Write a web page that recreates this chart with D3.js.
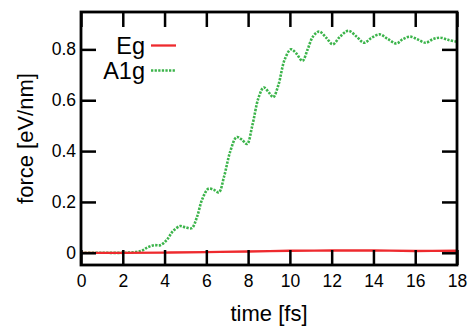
<!DOCTYPE html>
<html>
<head>
<meta charset="utf-8">
<script src="https://cdn.jsdelivr.net/npm/d3@7"></script>
<style>
  html, body { margin: 0; padding: 0; background: #fff; }
  svg { display: block; font-family: "Liberation Sans", Arial, Helvetica, sans-serif; }
</style>
</head>
<body>
<svg id="chart" width="471" height="328"></svg>
<script>
// ---- data ----
const xTicks = [0, 2, 4, 6, 8, 10, 12, 14, 16, 18];
const yTicks = [0, 0.2, 0.4, 0.6, 0.8];
const seriesNames = ["Eg", "A1g"];

const egTime  = [0, 2, 4, 6, 8, 10, 12, 14, 16, 18];
const egForce = [0, 0, 0.001, 0.003, 0.005, 0.008, 0.009, 0.009, 0.007, 0.008];

const a1gTime  = [0, 1, 2, 2.5, 2.9, 3.2, 3.5, 3.8, 4.1, 4.4, 4.75, 5.0, 5.3, 5.55, 5.8, 6.1, 6.35, 6.6, 6.85, 7.15, 7.45, 7.7, 7.95, 8.2, 8.5, 8.75, 9.0, 9.2, 9.45, 9.75, 10.05, 10.3, 10.6, 10.85, 11.1, 11.4, 11.75, 12.05, 12.4, 12.8, 13.2, 13.55, 13.9, 14.3, 14.7, 15.1, 15.4, 15.75, 16.1, 16.5, 16.85, 17.2, 17.6, 18];
const a1gForce = [0, 0, 0, 0.002, 0.008, 0.022, 0.03, 0.03, 0.05, 0.085, 0.105, 0.10, 0.097, 0.14, 0.21, 0.252, 0.248, 0.238, 0.30, 0.40, 0.455, 0.445, 0.428, 0.50, 0.61, 0.65, 0.63, 0.612, 0.66, 0.76, 0.80, 0.785, 0.755, 0.80, 0.85, 0.87, 0.845, 0.82, 0.85, 0.873, 0.85, 0.826, 0.845, 0.859, 0.84, 0.823, 0.84, 0.85, 0.84, 0.826, 0.84, 0.846, 0.837, 0.83];

// ---- layout ----
const svg = d3.select("#chart");
const L = 81, R = 457, T = 12, B = 265;
const x = d3.scaleLinear().domain([0, 18]).range([L, R]);
const y = d3.scaleLinear().domain([-0.048, 0.947]).range([B, T]);
const tickLen = 15;
const red = "#ee2a2e", green = "#3cb44b";

// clip
svg.append("clipPath").attr("id", "clip")
  .append("rect").attr("x", L).attr("y", T).attr("width", R - L).attr("height", B - T);

const line = d3.line().x(d => x(d[0])).y(d => y(d[1])).curve(d3.curveCatmullRom.alpha(0.5));

const g = svg.append("g").attr("clip-path", "url(#clip)");
g.append("path")
  .datum(a1gTime.map((t, i) => [t, a1gForce[i]]))
  .attr("fill", "none").attr("stroke", green).attr("stroke-width", 2.6)
  .attr("stroke-dasharray", "2.3,1.3")
  .attr("d", line);
g.append("path")
  .datum(egTime.map((t, i) => [t, egForce[i]]))
  .attr("fill", "none").attr("stroke", red).attr("stroke-width", 2.3)
  .attr("d", line);

// axes (ticks inward on all four sides)
const axFont = "17.5px";
const axB = svg.append("g").attr("transform", `translate(0,${B})`)
  .call(d3.axisBottom(x).tickValues(xTicks).tickSize(-tickLen).tickPadding(10).tickFormat(d3.format("d")));
const axT = svg.append("g").attr("transform", `translate(0,${T})`)
  .call(d3.axisTop(x).tickValues(xTicks).tickSize(-tickLen).tickFormat(""));
const axL = svg.append("g").attr("transform", `translate(${L},0)`)
  .call(d3.axisLeft(y).tickValues(yTicks).tickSize(-tickLen).tickPadding(5).tickFormat(d => d === 0 ? "0" : d3.format(".1f")(d)));
const axR = svg.append("g").attr("transform", `translate(${R},0)`)
  .call(d3.axisRight(y).tickValues(yTicks).tickSize(-tickLen).tickFormat(""));

[axB, axT, axL, axR].forEach(a => {
  a.select(".domain").remove();
  a.attr("font-family", null).attr("font-size", null);
  a.selectAll(".tick line").attr("stroke", "#000").attr("stroke-width", 2.5);
  a.selectAll(".tick text").attr("fill", "#000").style("font-size", axFont)
    .style("font-family", '"Liberation Sans", Arial, sans-serif');
});

// frame
svg.append("rect").attr("x", L).attr("y", T).attr("width", R - L).attr("height", B - T)
  .attr("fill", "none").attr("stroke", "#000").attr("stroke-width", 2.8);

// axis titles
svg.append("text").attr("x", (L + R) / 2).attr("y", 321).attr("text-anchor", "middle")
  .style("font-size", "22px").text("time [fs]");
svg.append("text").attr("transform", `translate(33,${(T + B) / 2}) rotate(-90)`)
  .attr("text-anchor", "middle").style("font-size", "22px").text("force [eV/nm]");

// legend
const legY = [45.5, 70.5];
const legColors = [red, green];
seriesNames.forEach((name, i) => {
  svg.append("text").attr("x", 145).attr("y", legY[i]).attr("dy", "0.36em")
    .attr("text-anchor", "end").style("font-size", "23.5px").text(name);
  const l = svg.append("line").attr("x1", 151).attr("x2", 176).attr("y1", legY[i]).attr("y2", legY[i])
    .attr("stroke", legColors[i]).attr("stroke-width", i === 0 ? 2.3 : 2.6);
  if (i === 1) l.attr("stroke-dasharray", "2.3,1.3");
});
</script>
</body>
</html>
